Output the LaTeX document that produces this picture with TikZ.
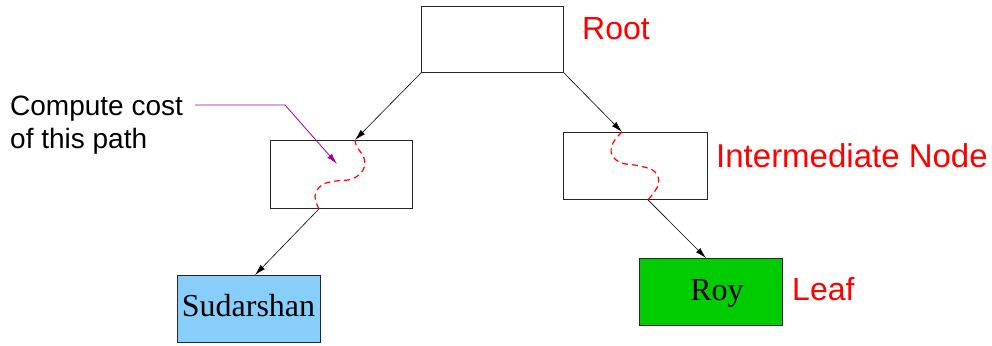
\documentclass[tikz,border=0pt]{standalone}
\usepackage{fontspec}
\setmainfont{Liberation Serif}
\newfontfamily\sansf{Liberation Sans}
\usetikzlibrary{arrows.meta,calc}
\definecolor{lblue}{RGB}{135,206,250}
\definecolor{lgreen}{RGB}{0,204,0}
\definecolor{annot}{RGB}{160,0,160}
\tikzset{
  box/.style={draw=black!85,line width=0.9pt,minimum width=142pt,minimum height=66pt,inner sep=0pt,anchor=north west},
  lbl/.style={text=red,font=\sansf\fontsize{32}{36}\selectfont,anchor=base west,inner sep=0pt},
  edge/.style={line width=0.6pt,-{Latex[length=11pt,width=6pt]}},
  wavy/.style={red,line width=1.2pt,dash pattern=on 6pt off 4pt},
  nm/.style={font=\fontsize{32}{36}\selectfont},
  note/.style={font=\sansf\fontsize{28}{33}\selectfont,anchor=base west,inner sep=0pt}
}
\begin{document}
\begin{tikzpicture}[x=1pt,y=-1pt]
\useasboundingbox (0,0) rectangle (992,345);
\node[box] (root) at (421,6) {};
\node[box,minimum height=68pt] (L) at (270,140) {};
\node[box,minimum width=144pt,minimum height=67pt] (R) at (563,132) {};
\node[box,fill=lblue,minimum width=143pt,minimum height=67pt,nm] (S) at (177,275) {};
\node[nm,anchor=base] (st) at (248.5,316) {Sudarshan};
\node[box,fill=lgreen,minimum width=143pt,minimum height=67pt] (Y) at (639,258) {};
\node[nm,anchor=base] (yt) at (717,300) {Roy};
\node[lbl] (rl) at (582,40) {Root};
\node[lbl,font=\sansf\fontsize{33}{36}\selectfont] (il) at (716,167) {Intermediate Node};
\node[lbl] (ll) at (792,300) {Leaf};
\node[note] (cc) at (10,115) {Compute cost};
\node[note] (cc2) at (10,148) {of this path};
% edges
\coordinate (Lt) at ([xshift=85pt]L.north west);
\coordinate (Lb) at ([xshift=49pt]L.south west);
\coordinate (Rt) at ([xshift=59pt]R.north west);
\coordinate (Rb) at ([xshift=85pt]R.south west);
\draw[edge] (root.south west) -- (Lt);
\draw[edge] (root.south east) -- (Rt);
\draw[edge] (Lb) -- ([xshift=78pt]S.north west);
\draw[edge] (Rb) -- ([xshift=67pt]Y.north west);
% wavy paths
\draw[wavy] plot[smooth,tension=0.7] coordinates {(Lb) (315,196) (322,185) (336,181) (352,179) (363,170) (364,158) (357,147) (Lt)};
\draw[wavy] plot[smooth,tension=0.7] coordinates {(Rt) (613,143) (612,155) (622,163) (640,166) (655,172) (658,185) (Rb)};
% annotation
\coordinate (as) at (195,105);
\coordinate (ab) at (285,105);
\coordinate (ae) at (337,164);
\draw[annot,line width=0.8pt,-{Latex[length=11pt,width=6pt]}] (as) -- (ab) -- (ae);
\end{tikzpicture}
\end{document}
